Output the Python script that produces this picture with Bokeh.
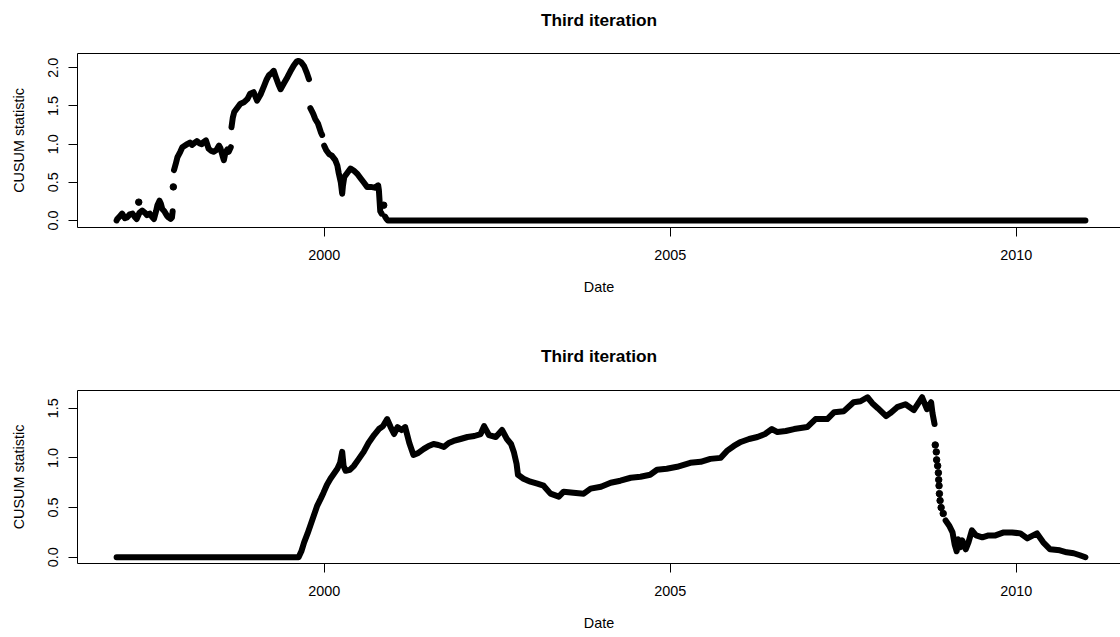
from bokeh.plotting import figure
from bokeh.models import FixedTicker, PrintfTickFormatter, LinearAxis
from bokeh.layouts import column
from bokeh.embed import file_html
from bokeh.resources import INLINE

GAP = float("nan")

# ---------------- data (decimal years, CUSUM statistic) ----------------
top_line_years = [
    1997.00, 1997.01, 1997.05, 1997.08, 1997.12, 1997.15, 1997.19, 1997.23, 1997.26, 1997.29,
    1997.33, 1997.37, 1997.41, 1997.44, 1997.48, 1997.51, 1997.54, 1997.57, 1997.59, 1997.62,
    1997.64, 1997.66, 1997.69, 1997.71, 1997.73, 1997.75, 1997.78, 1997.80, 1997.81, GAP,
    1997.83, 1997.86, 1997.88, 1997.92, 1997.95, 1998.02, 1998.06, 1998.09, 1998.13, 1998.16,
    1998.20, 1998.23, 1998.26, 1998.29, 1998.33, 1998.37, 1998.40, 1998.44, 1998.48, 1998.50,
    1998.53, 1998.55, 1998.57, 1998.60, 1998.62, 1998.65, GAP,
    1998.66, 1998.68, 1998.70, 1998.74, 1998.79, 1998.84, 1998.89, 1998.93, 1998.98, 1999.03,
    1999.08, 1999.13, 1999.17, 1999.20, 1999.24, 1999.27, 1999.30, 1999.34, 1999.37, 1999.42,
    1999.47, 1999.51, 1999.56, 1999.60, 1999.63, 1999.67, 1999.71, 1999.75, 1999.78, GAP,
    1999.80, 1999.84, 1999.87, 1999.91, 1999.95, 1999.97, GAP,
    2000.00, 2000.03, 2000.07, 2000.11, 2000.16, 2000.19, 2000.21, 2000.24, 2000.26, 2000.27,
    2000.29, 2000.33, 2000.38, 2000.43, 2000.48, 2000.52, 2000.57, 2000.62, 2000.67, 2000.73,
    2000.78, 2000.79, 2000.80, 2000.81, 2000.83, GAP,
    2000.88, 2000.90, 2000.92, 2011.00,
]
top_line_values = [
    0.00, 0.02, 0.06, 0.09, 0.03, 0.04, 0.08, 0.09, 0.05, 0.02,
    0.10, 0.13, 0.10, 0.07, 0.09, 0.05, 0.02, 0.12, 0.20, 0.26,
    0.22, 0.15, 0.12, 0.09, 0.06, 0.04, 0.02, 0.04, 0.12, GAP,
    0.66, 0.76, 0.83, 0.90, 0.96, 1.00, 1.02, 0.99, 1.02, 1.04,
    1.01, 1.00, 1.03, 1.05, 0.94, 0.91, 0.90, 0.92, 0.98, 0.95,
    0.85, 0.79, 0.88, 0.93, 0.90, 0.96, GAP,
    1.22, 1.35, 1.42, 1.47, 1.53, 1.55, 1.59, 1.66, 1.68, 1.57,
    1.65, 1.76, 1.85, 1.90, 1.93, 1.96, 1.88, 1.78, 1.72, 1.80,
    1.88, 1.95, 2.03, 2.08, 2.09, 2.07, 2.02, 1.93, 1.85, GAP,
    1.47, 1.40, 1.33, 1.27, 1.16, 1.12, GAP,
    0.98, 0.92, 0.87, 0.85, 0.79, 0.72, 0.62, 0.50, 0.35, 0.45,
    0.57, 0.62, 0.68, 0.65, 0.61, 0.56, 0.50, 0.44, 0.44, 0.43,
    0.46, 0.40, 0.26, 0.12, 0.09, GAP,
    0.05, 0.02, 0.00, 0.00,
]
top_dot_years = [1997.32, 1997.82, 2000.86]
top_dot_values = [0.24, 0.44, 0.20]

bottom_line_years = [
    1997.00, 1999.63, 1999.67, 1999.71, 1999.76, 1999.80, 1999.85, 1999.90, 1999.95, 1999.99,
    2000.04, 2000.09, 2000.14, 2000.19, 2000.23, 2000.26, 2000.28, 2000.31, 2000.37, 2000.43,
    2000.50, 2000.57, 2000.64, 2000.72, 2000.79, 2000.85, 2000.91, 2000.96, 2001.01, 2001.06,
    2001.12, 2001.17, 2001.23, 2001.29, 2001.36, 2001.44, 2001.51, 2001.58, 2001.65, 2001.73,
    2001.80, 2001.87, 2001.97, 2002.07, 2002.17, 2002.26, 2002.31, 2002.38, 2002.48, 2002.57,
    2002.64, 2002.70, 2002.74, 2002.78, 2002.80, 2002.88, 2002.98, 2003.08, 2003.17, 2003.27,
    2003.39, 2003.46, 2003.60, 2003.75, 2003.85, 2004.00, 2004.14, 2004.28, 2004.43, 2004.57,
    2004.71, 2004.81, 2004.95, 2005.10, 2005.29, 2005.44, 2005.58, 2005.73, 2005.82, 2005.92,
    2006.02, 2006.14, 2006.26, 2006.37, 2006.47, 2006.55, 2006.67, 2006.79, 2006.98, 2007.10,
    2007.27, 2007.37, 2007.51, 2007.65, 2007.75, 2007.85, 2007.92, 2008.00, 2008.06, 2008.12,
    2008.18, 2008.28, 2008.40, 2008.52, 2008.64, 2008.71, 2008.77, 2008.79, 2008.82, GAP,
    2008.98, 2009.03, 2009.08, 2009.11, 2009.14, 2009.16, 2009.19, 2009.22, 2009.27, 2009.31,
    2009.36, 2009.42, 2009.51, 2009.60, 2009.70, 2009.82, 2009.94, 2010.06, 2010.16, 2010.30,
    2010.39, 2010.49, 2010.63, 2010.73, 2010.83, 2010.92, 2011.00,
]
bottom_line_values = [
    0.00, 0.00, 0.06, 0.15, 0.24, 0.32, 0.42, 0.52, 0.59, 0.65,
    0.73, 0.79, 0.84, 0.89, 0.95, 1.06, 0.92, 0.87, 0.88, 0.92,
    0.99, 1.06, 1.15, 1.23, 1.29, 1.32, 1.39, 1.31, 1.24, 1.31,
    1.28, 1.31, 1.15, 1.03, 1.05, 1.09, 1.12, 1.14, 1.13, 1.11,
    1.15, 1.17, 1.19, 1.21, 1.22, 1.24, 1.32, 1.23, 1.21, 1.28,
    1.19, 1.14, 1.06, 0.94, 0.83, 0.79, 0.76, 0.74, 0.72, 0.64,
    0.61, 0.66, 0.65, 0.64, 0.69, 0.71, 0.75, 0.77, 0.80, 0.81,
    0.83, 0.88, 0.89, 0.91, 0.95, 0.96, 0.99, 1.00, 1.07, 1.12,
    1.16, 1.19, 1.21, 1.24, 1.29, 1.26, 1.27, 1.29, 1.31, 1.39,
    1.39, 1.46, 1.47, 1.56, 1.57, 1.61, 1.55, 1.50, 1.46, 1.42,
    1.45, 1.51, 1.54, 1.48, 1.61, 1.49, 1.56, 1.45, 1.34, GAP,
    0.37, 0.32, 0.25, 0.13, 0.06, 0.18, 0.10, 0.17, 0.08, 0.15,
    0.27, 0.22, 0.20, 0.22, 0.22, 0.25, 0.25, 0.24, 0.19, 0.24,
    0.15, 0.08, 0.07, 0.05, 0.04, 0.02, 0.00,
]
bottom_dot_years = [2008.830, 2008.845, 2008.850, 2008.865, 2008.875, 2008.880,
                    2008.885, 2008.890, 2008.900, 2008.915, 2008.945]
bottom_dot_values = [1.13, 1.06, 0.98, 0.92, 0.85, 0.78, 0.72, 0.64, 0.57, 0.50, 0.44]

x_ticks = [2000, 2005, 2010]
top_y_ticks = [0.0, 0.5, 1.0, 1.5, 2.0]
bottom_y_ticks = [0.0, 0.5, 1.0, 1.5]
title_text = "Third iteration"
x_label = "Date"
y_label = "CUSUM statistic"

FONT = "Liberation Sans"
X0, X1 = 1996.435, 2011.507


def make_panel(line_x, line_y, dot_x, dot_y, y_range, y_ticks, border_top, frame_h,
               border_bottom, title_gap):
    p = figure(
        frame_width=1043, frame_height=frame_h,
        x_range=(X0, X1), y_range=y_range,
        output_backend="svg", toolbar_location=None,
        min_border_left=77, min_border_right=0,
        min_border_top=border_top, min_border_bottom=border_bottom,
        background_fill_color="white", border_fill_color="white",
    )
    p.grid.visible = False
    p.outline_line_color = None

    for ax in (p.xaxis[0], p.yaxis[0]):
        ax.axis_line_color = "black"
        ax.axis_line_width = 1
        ax.major_tick_in = 0
        ax.major_tick_out = 9
        ax.major_tick_line_color = "black"
        ax.minor_tick_line_color = None
        ax.major_label_text_font = FONT
        ax.major_label_text_font_size = "14.4px"
        ax.major_label_text_color = "black"
        ax.axis_label_text_font = FONT
        ax.axis_label_text_font_size = "14.4px"
        ax.axis_label_text_font_style = "normal"
        ax.axis_label_text_color = "black"

    p.xaxis.ticker = FixedTicker(ticks=x_ticks)
    p.xaxis.axis_label = x_label
    p.xaxis.major_label_standoff = 13
    p.xaxis.axis_label_standoff = 16

    p.yaxis.ticker = FixedTicker(ticks=y_ticks)
    p.yaxis.formatter = PrintfTickFormatter(format="%.1f")
    p.yaxis.major_label_orientation = "vertical"
    p.yaxis.axis_label = y_label
    p.yaxis.major_label_standoff = 10
    p.yaxis.axis_label_standoff = 19

    # top edge of the box, carrying the panel title above it
    top_edge = LinearAxis(ticker=FixedTicker(ticks=[]), axis_line_color="black",
                          axis_line_width=1, major_tick_in=0, major_tick_out=0,
                          major_tick_line_color=None, minor_tick_line_color=None,
                          axis_label=title_text, axis_label_standoff=title_gap,
                          axis_label_text_font=FONT, axis_label_text_font_size="17.3px",
                          axis_label_text_font_style="bold", axis_label_text_color="black")
    p.add_layout(top_edge, "above")

    p.line(line_x, line_y, line_width=6, line_color="black",
           line_cap="round", line_join="round")
    p.scatter(dot_x, dot_y, size=6.5, marker="circle",
              fill_color="black", line_color="black")
    return p


p_top = make_panel(top_line_years, top_line_values, top_dot_years, top_dot_values,
                   (-0.092, 2.187), top_y_ticks, 53, 174, 93, 24)
p_bottom = make_panel(bottom_line_years, bottom_line_values, bottom_dot_years, bottom_dot_values,
                      (-0.063, 1.678), bottom_y_ticks, 70, 173, 74, 25)

layout = column(p_top, p_bottom, spacing=0)
open("out.html", "w").write(file_html(layout, INLINE))
